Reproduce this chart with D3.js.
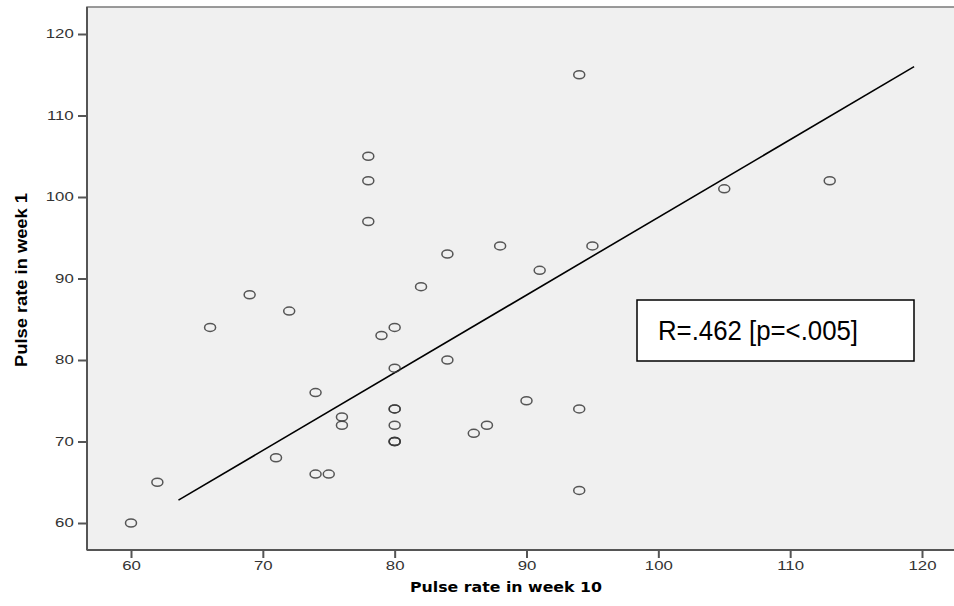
<!DOCTYPE html>
<html>
<head>
<meta charset="utf-8">
<script src="https://cdn.jsdelivr.net/npm/d3@7"></script>
<style>
  body { margin: 0; background: #fff; }
  svg { display: block; }
</style>
</head>
<body>
<div id="chart"></div>
<script>
// pulse rate pairs (x = week 10, y = week 1)
var week10 = [60, 62, 66, 69, 71, 72, 74, 74, 75, 76, 76, 78, 78, 78, 79, 80, 80, 80, 80, 80, 80, 80, 80, 82, 84, 84, 86, 87, 88, 90, 91, 94, 94, 94, 95, 105, 113];
var week1  = [60, 65, 84, 88, 68, 86, 76, 66, 66, 73, 72, 105, 102, 97, 83, 84, 79, 74, 74, 72, 70, 70, 70, 89, 93, 80, 71, 72, 94, 75, 91, 115, 74, 64, 94, 101, 102];

var xTicks = [60, 70, 80, 90, 100, 110, 120];
var yTicks = [60, 70, 80, 90, 100, 110, 120];

// fit line end points (week 10, week 1)
var fitX = [63.6, 119.4];
var fitY = [62.8, 116.0];

var legendText = "R=.462 [p=<.005]";

var width = 954;
var height = 606;

// plot frame (note: "top" is taken by window.top, so use other names)
var plotLeft = 87, plotTop = 7, plotBottom = 550;

var x = d3.scaleLinear().domain([60, 120]).range([131, 922]);
var y = d3.scaleLinear().domain([60, 120]).range([523, 34]);

var svg = d3.select("#chart").append("svg")
    .attr("width", width)
    .attr("height", height);

// grey plot background, runs off the right edge like the original
svg.append("rect")
    .attr("x", plotLeft)
    .attr("y", plotTop)
    .attr("width", width - plotLeft + 10)
    .attr("height", plotBottom - plotTop)
    .style("fill", "#f0f0f0")
    .style("stroke", "#7a7a7a")
    .style("stroke-width", 1.5);

// left axis line and bottom axis line
svg.append("line")
    .attr("x1", plotLeft).attr("x2", plotLeft)
    .attr("y1", plotTop).attr("y2", plotBottom)
    .style("stroke", "#555").style("stroke-width", 2);
svg.append("line")
    .attr("x1", plotLeft).attr("x2", width)
    .attr("y1", plotBottom).attr("y2", plotBottom)
    .style("stroke", "#555").style("stroke-width", 2);

var xAxis = svg.append("g")
    .attr("transform", "translate(0," + plotBottom + ")")
    .call(d3.axisBottom(x).tickValues(xTicks).tickSize(8).tickPadding(3));

var yAxis = svg.append("g")
    .attr("transform", "translate(" + plotLeft + ",0)")
    .call(d3.axisLeft(y).tickValues(yTicks).tickSize(9).tickPadding(3));

[xAxis, yAxis].forEach(function(g) {
  g.select(".domain").remove();
  g.selectAll(".tick line").style("stroke", "#555").style("stroke-width", 2);
  g.selectAll(".tick text")
      .style("font-family", "'Liberation Sans', Arial, sans-serif")
      .style("font-size", "12px")
      .style("fill", "#333");
});

// the original is stretched sideways, so widen the digits
xAxis.selectAll(".tick text")
    .attr("transform", "scale(1.4,1)");
yAxis.selectAll(".tick text")
    .attr("x", -9.5)
    .attr("transform", "scale(1.4,1)");

// regression line
svg.append("line")
    .attr("x1", x(fitX[0])).attr("y1", y(fitY[0]))
    .attr("x2", x(fitX[1])).attr("y2", y(fitY[1]))
    .style("stroke", "#000")
    .style("stroke-width", 1.6);

// points (open circles, a little wide)
svg.append("g")
  .selectAll("ellipse")
    .data(week10)
    .enter().append("ellipse")
      .attr("cx", function(d) { return x(d); })
      .attr("cy", function(d, i) { return y(week1[i]); })
      .attr("rx", 5.5)
      .attr("ry", 4)
      .style("fill", "none")
      .style("stroke", "#3a3a3a")
      .style("stroke-width", 1.5)
      .style("stroke-opacity", 0.85);

// legend box
svg.append("rect")
    .attr("x", 637)
    .attr("y", 300)
    .attr("width", 277)
    .attr("height", 61)
    .style("fill", "#fff")
    .style("stroke", "#000")
    .style("stroke-width", 1.5);

svg.append("text")
    .attr("x", 658)
    .attr("y", 340)
    .attr("textLength", 200)
    .attr("lengthAdjust", "spacingAndGlyphs")
    .style("font-family", "'Liberation Sans', Arial, sans-serif")
    .style("font-size", "28px")
    .style("fill", "#000")
    .text(legendText);

// axis titles
svg.append("text")
    .attr("x", 506)
    .attr("y", 592)
    .attr("text-anchor", "middle")
    .attr("textLength", 192)
    .attr("lengthAdjust", "spacingAndGlyphs")
    .style("font-family", "'DejaVu Sans', Verdana, sans-serif")
    .style("font-weight", "bold")
    .style("font-size", "14px")
    .style("fill", "#000")
    .text("Pulse rate in week 10");

svg.append("text")
    .attr("transform", "translate(27,280) rotate(-90)")
    .attr("text-anchor", "middle")
    .attr("textLength", 174)
    .attr("lengthAdjust", "spacingAndGlyphs")
    .style("font-family", "'Liberation Sans', Arial, sans-serif")
    .style("font-weight", "bold")
    .style("font-size", "16px")
    .style("fill", "#000")
    .text("Pulse rate in week 1");
</script>
</body>
</html>
